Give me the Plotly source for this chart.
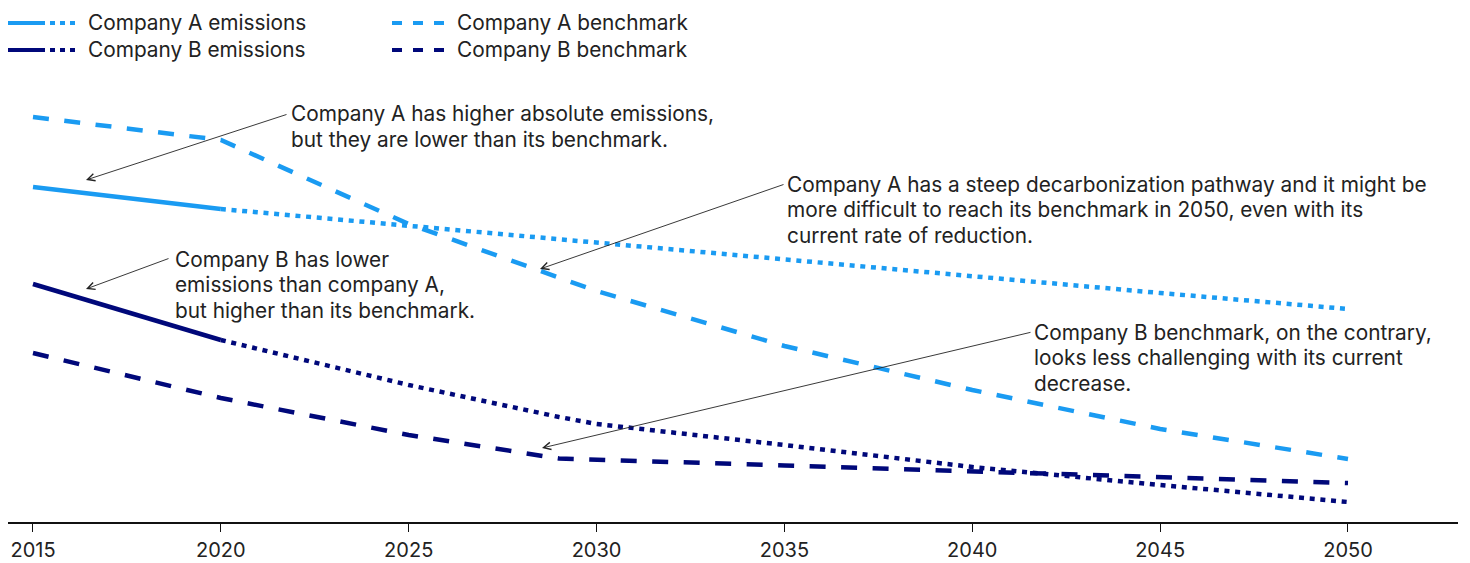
import plotly.graph_objects as go

# ---------------- data ----------------
years_hist = [2015, 2020]
years_proj_a = [2020, 2025, 2030, 2035, 2040, 2045, 2050]
years_proj_b = [2020, 2025, 2029, 2030, 2035, 2040, 2045, 2050]
years_bench_a = [2015, 2020, 2025, 2030, 2035, 2040, 2045, 2050]
years_bench_b = [2015, 2020, 2025, 2029, 2035, 2040, 2045, 2050]

a_emissions = [335, 313]
a_projection = [313, 296, 279, 262, 245, 229, 213]
a_benchmark = [405, 382, 298, 231, 176, 132, 93, 63]

b_emissions = [238, 182]
b_projection = [182, 137, 105, 98, 77, 55, 37, 20]
b_benchmark = [169, 124, 87, 63.5, 56.5, 51, 45, 39]

tick_years = [2015, 2020, 2025, 2030, 2035, 2040, 2045, 2050]

legend_labels = ["Company A emissions", "Company B emissions",
                 "Company A benchmark", "Company B benchmark"]

notes = [
    ["Company A has higher absolute emissions,",
     "but they are lower than its benchmark."],
    ["Company A has a steep decarbonization pathway and it might be",
     "more difficult to reach its benchmark in 2050, even with its",
     "current rate of reduction."],
    ["Company B has lower",
     "emissions than company A,",
     "but higher than its benchmark."],
    ["Company B benchmark, on the contrary,",
     "looks less challenging with its current",
     "decrease."],
]

# ---------------- style ----------------
LIGHT = "#1A9BF2"
DARK = "#00087A"
TEXT = "#222222"
FONT = "Inter"
FS = 20.8
W, H = 1470, 563
ML, MR, MT, MB = 8, 12, 80, 41
X0, X1 = 2014.335, 2052.928
Y0, Y1 = 0, 442
LW = 4.5
DOT = "5px,5.7px"
DASH = "16px,15.5px"

fig = go.Figure()

def add(x, y, color, dash):
    fig.add_trace(go.Scatter(x=x, y=y, mode="lines", showlegend=False,
                             hoverinfo="skip",
                             line=dict(color=color, width=LW, dash=dash)))

add(years_bench_a, a_benchmark, LIGHT, DASH)
add(years_bench_b, b_benchmark, DARK, DASH)
add(years_proj_a, a_projection, LIGHT, DOT)
add(years_proj_b, b_projection, DARK, DOT)
add(years_hist, a_emissions, LIGHT, "solid")
add(years_hist, b_emissions, DARK, "solid")

# pixel helpers for layout-only elements
PW = W - ML - MR
PH = H - MT - MB
def px2paper_x(px):
    return (px - ML) / PW
def px2paper_y(py):
    return (H - MB - py) / PH
def px2data_x(px):
    return X0 + (px - ML) / PW * (X1 - X0)
def px2data_y(py):
    return Y0 + (H - MB - py) / PH * (Y1 - Y0)

shapes = []
annotations = []

# ---- manual legend ----
legend_rows = [23, 50]
legend_items = [
    (legend_labels[0], LIGHT, 0, 0, "combo"),
    (legend_labels[1], DARK, 0, 1, "combo"),
    (legend_labels[2], LIGHT, 1, 0, "dash"),
    (legend_labels[3], DARK, 1, 1, "dash"),
]
for label, color, col, row, kind in legend_items:
    y = px2paper_y(legend_rows[row])
    if kind == "combo":
        shapes.append(dict(type="line", xref="paper", yref="paper",
                           x0=px2paper_x(8), x1=px2paper_x(45), y0=y, y1=y,
                           line=dict(color=color, width=4)))
        shapes.append(dict(type="line", xref="paper", yref="paper",
                           x0=px2paper_x(50), x1=px2paper_x(80), y0=y, y1=y,
                           line=dict(color=color, width=4, dash="5px,5px")))
        tx = 86
    else:
        shapes.append(dict(type="line", xref="paper", yref="paper",
                           x0=px2paper_x(392), x1=px2paper_x(447), y0=y, y1=y,
                           line=dict(color=color, width=4, dash="10px,11px")))
        tx = 455
    annotations.append(dict(xref="paper", yref="paper", x=px2paper_x(tx), y=px2paper_y(legend_rows[row] - 1),
                            xanchor="left", yanchor="middle", text=label,
                            showarrow=False, font=dict(family=FONT, size=FS, color=TEXT)))

# ---- callouts: (tip px, tail px, text left px, first line center py) ----
LINE_STEP = 25.5
callouts = [
    ((86, 180), (288, 114), 289, 114),
    ((540, 269), (785, 184), 785, 184),
    ((86, 289), (170, 258), 173, 259),
    ((542, 448), (1032, 332), 1032, 332),
]
for (tip, tail, tlx, tcy), lines in zip(callouts, notes):
    annotations.append(dict(x=px2data_x(tip[0]), y=px2data_y(tip[1]),
                            xref="x", yref="y", text="", showarrow=True,
                            axref="pixel", ayref="pixel",
                            ax=tail[0] - tip[0], ay=tail[1] - tip[1],
                            arrowhead=5, arrowsize=1.6, arrowwidth=0.9,
                            arrowcolor="#222222"))
    for i, line in enumerate(lines):
        annotations.append(dict(x=px2paper_x(tlx), y=px2paper_y(tcy + i * LINE_STEP),
                                xref="paper", yref="paper", text=line, showarrow=False,
                                xanchor="left", yanchor="middle", align="left",
                                font=dict(family=FONT, size=FS, color=TEXT)))

fig.update_layout(
    width=W, height=H,
    margin=dict(l=ML, r=MR, t=MT, b=MB, pad=0, autoexpand=False),
    paper_bgcolor="white", plot_bgcolor="white",
    shapes=shapes, annotations=annotations,
    xaxis=dict(range=[X0, X1], tickmode="array", tickvals=tick_years,
               ticktext=[str(t) for t in tick_years],
               showgrid=False, zeroline=False, showline=True,
               linecolor="#111111", linewidth=2, automargin=False,
               ticks="outside", ticklen=8, tickwidth=1.2, tickcolor="#111111",
               ticklabelstandoff=1,
               tickfont=dict(family=FONT, size=20, color=TEXT)),
    yaxis=dict(range=[Y0, Y1], visible=False, showgrid=False, zeroline=False,
               automargin=False),
    font=dict(family=FONT, size=FS, color=TEXT),
)

fig.write_html("out.html")
